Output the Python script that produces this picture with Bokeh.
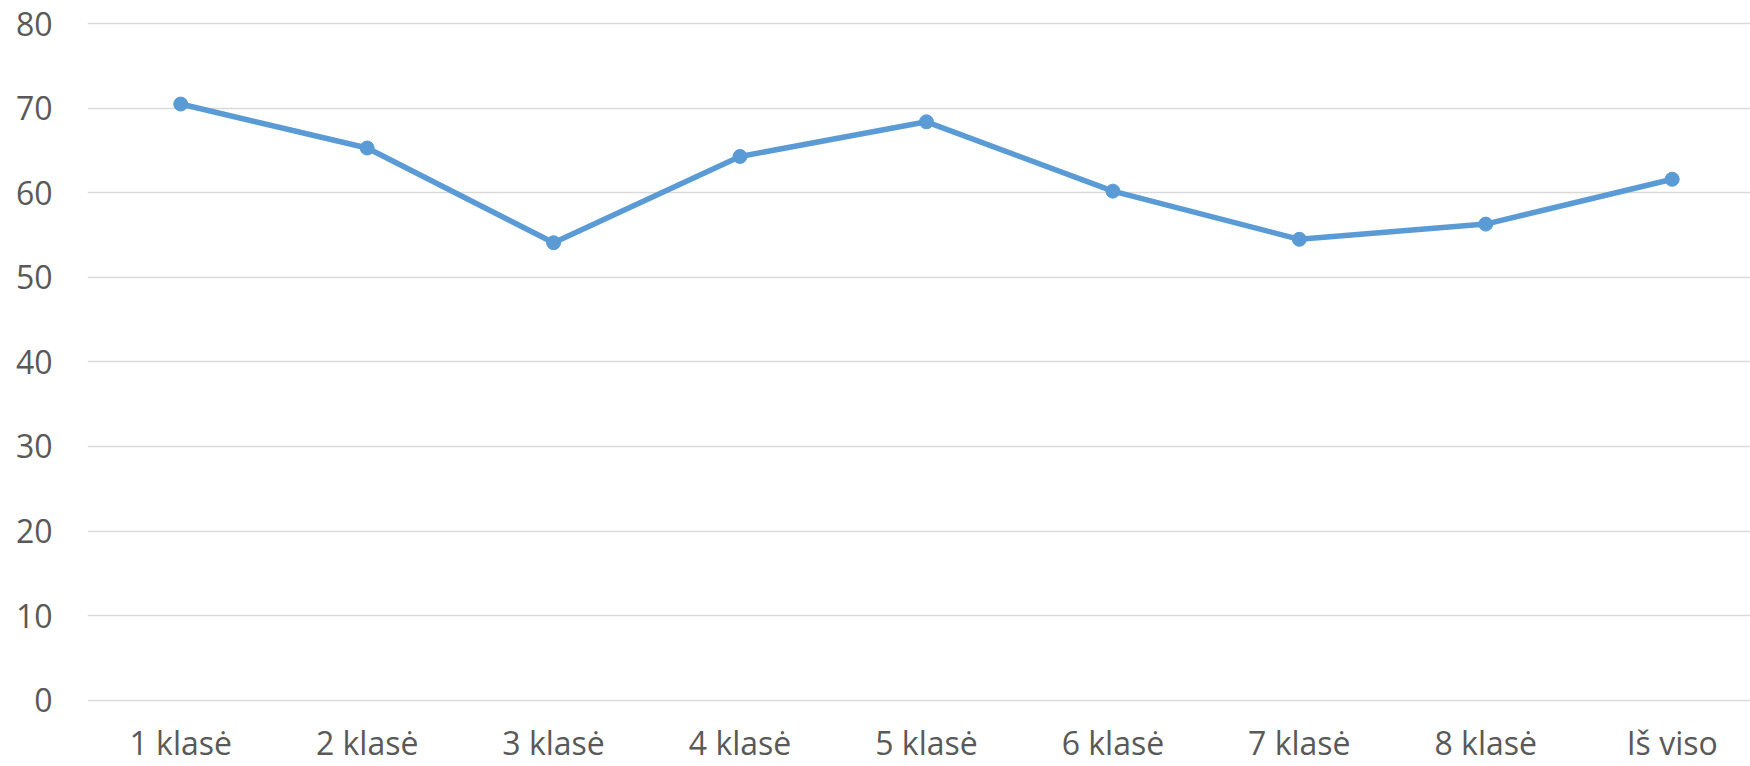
from bokeh.plotting import figure
from bokeh.models import Range1d, FixedTicker, ColumnDataSource
from bokeh.embed import file_html
from bokeh.resources import INLINE

categories = ["1 klasė", "2 klasė", "3 klasė", "4 klasė", "5 klasė",
              "6 klasė", "7 klasė", "8 klasė", "Iš viso"]
values = [70.5, 65.3, 54.1, 64.3, 68.4, 60.2, 54.5, 56.3, 61.6]
y_ticks = [0, 10, 20, 30, 40, 50, 60, 70, 80]

xs = list(range(len(categories)))
src = ColumnDataSource(data=dict(x=xs, y=values, cat=categories))

p = figure(width=1750, height=766, output_backend="svg", toolbar_location=None,
           x_range=Range1d(-0.5, 8.42), y_range=Range1d(-0.4, 80.5),
           min_border_left=87, min_border_right=0, min_border_top=19,
           min_border_bottom=59)
p.outline_line_color = None
p.background_fill_color = "white"
p.border_fill_color = "white"

p.line("x", "y", source=src, line_color="#5B9BD5", line_width=5.5)
p.scatter("x", "y", source=src, size=14, fill_color="#5B9BD5", line_color="#5B9BD5")

text_color = "#595959"
font = "Open Sans"

p.xaxis.ticker = FixedTicker(ticks=xs)
p.xaxis.major_label_overrides = {i: c for i, c in enumerate(categories)}
p.yaxis.ticker = FixedTicker(ticks=y_ticks)

for ax in (p.xaxis[0], p.yaxis[0]):
    ax.axis_line_color = None
    ax.major_tick_line_color = None
    ax.minor_tick_line_color = None
    ax.major_tick_out = 0
    ax.major_tick_in = 0
    ax.major_label_text_color = text_color
    ax.major_label_text_font = font
    ax.major_label_text_font_size = "32px"

p.yaxis.major_label_standoff = 35
p.xaxis.major_label_standoff = 17

p.xgrid.grid_line_color = None
p.ygrid.grid_line_color = "#D9D9D9"
p.ygrid.grid_line_width = 1.5
p.ygrid.ticker = FixedTicker(ticks=y_ticks)

open("out.html", "w").write(file_html(p, INLINE))
